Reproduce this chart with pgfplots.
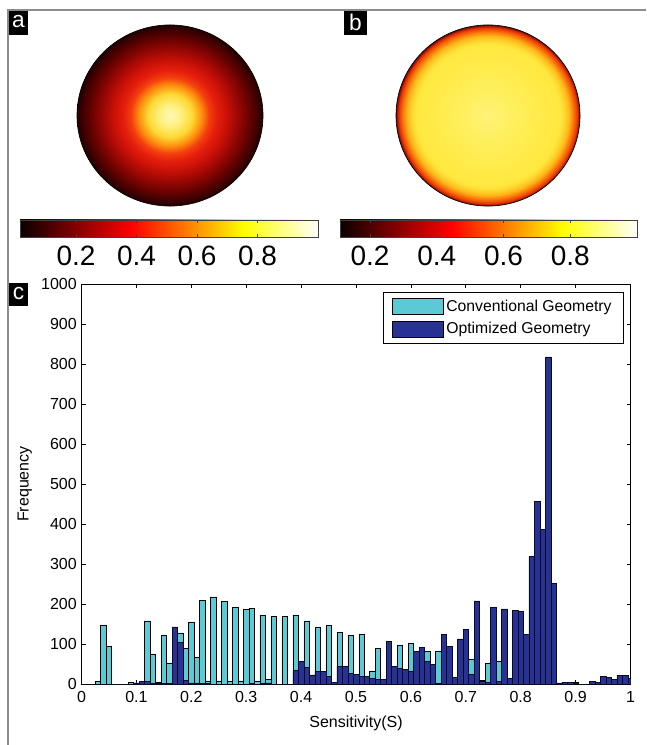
\documentclass[border=0pt]{standalone}
\usepackage{fontspec}
\setmainfont{Liberation Sans}
\usepackage{pgfplots}
\usepackage{pgfplotstable}
\pgfplotsset{compat=1.18}

\definecolor{convc}{RGB}{92,202,212}
\definecolor{optc}{RGB}{40,50,148}
\definecolor{framegray}{RGB}{140,140,140}

\pgfdeclarehorizontalshading{hotbar}{100bp}{rgb(0bp)=(0.04,0,0); rgb(25bp)=(0.04,0,0); rgb(43.75bp)=(1,0,0); rgb(62.5bp)=(1,1,0); rgb(75bp)=(1,1,1); rgb(100bp)=(1,1,1)}

\pgfdeclareradialshading{diskA}{\pgfpointorigin}{%
rgb(0bp)=(1,0.97,0.72);
rgb(3bp)=(1,0.94,0.5);
rgb(6bp)=(1,0.85,0.2);
rgb(8.5bp)=(1,0.55,0.05);
rgb(10.5bp)=(0.95,0.25,0.05);
rgb(12.5bp)=(0.9,0.12,0.05);
rgb(15bp)=(0.8,0.07,0.03);
rgb(18bp)=(0.62,0.03,0.02);
rgb(21bp)=(0.42,0.01,0);
rgb(23.5bp)=(0.25,0,0);
rgb(25bp)=(0.13,0,0);
rgb(50bp)=(0.13,0,0)}

\pgfdeclareradialshading{diskB}{\pgfpointorigin}{%
rgb(0bp)=(1,0.95,0.48);
rgb(6bp)=(1,0.94,0.38);
rgb(15bp)=(1,0.92,0.28);
rgb(19.5bp)=(1,0.91,0.25);
rgb(20.5bp)=(1,0.86,0.2);
rgb(22bp)=(1,0.72,0.1);
rgb(23.2bp)=(0.98,0.46,0.04);
rgb(24.3bp)=(0.9,0.2,0.02);
rgb(25bp)=(0.45,0.03,0);
rgb(50bp)=(0.45,0.03,0)}

\pgfplotstableread{
x conv opt
0.00 0 0
0.01 0 0
0.02 0 0
0.03 7 0
0.04 148 0
0.05 95 0
0.06 0 0
0.07 0 0
0.08 0 0
0.09 5 0
0.10 3 3
0.11 3 7
0.12 158 6
0.13 75 2
0.14 5 2
0.15 123 2
0.16 53 2
0.17 0 143
0.18 128 105
0.19 89 10
0.20 155 3
0.21 66 3
0.22 210 2
0.23 8 2
0.24 218 0
0.25 8 0
0.26 207 0
0.27 8 0
0.28 192 0
0.29 8 0
0.30 187 0
0.31 190 2
0.32 6 0
0.33 171 2
0.34 12 3
0.35 169 0
0.36 0 0
0.37 170 0
0.38 0 0
0.39 172 34
0.40 5 57
0.41 158 41
0.42 5 23
0.43 141 32
0.44 5 31
0.45 146 20
0.46 5 4
0.47 129 44
0.48 5 44
0.49 122 27
0.50 5 24
0.51 125 20
0.52 5 19
0.53 33 15
0.54 90 12
0.55 0 12
0.56 5 106
0.57 5 45
0.58 96 40
0.59 5 37
0.60 102 32
0.61 5 81
0.62 5 92
0.63 82 57
0.64 5 50
0.65 81 2
0.66 5 125
0.67 5 95
0.68 5 16
0.69 5 113
0.70 5 137
0.71 61 25
0.72 5 208
0.73 10 6
0.74 52 5
0.75 5 192
0.76 57 6
0.77 5 188
0.78 5 14
0.79 0 185
0.80 0 181
0.81 0 125
0.82 0 319
0.83 0 457
0.84 0 386
0.85 0 818
0.86 0 252
0.87 2 3
0.88 5 4
0.89 0 5
0.90 5 2
0.91 0 0
0.92 0 0
0.93 0 6
0.94 0 5
0.95 0 19
0.96 0 17
0.97 0 11
0.98 0 21
0.99 0 22
1.00 0 14
}\histdata

\begin{document}
\begin{tikzpicture}
\begin{scope}[x=0.75pt,y=-0.75pt]
  \useasboundingbox (0,0) rectangle (646,745);
  \coordinate (cSW) at (81.5,684);
  \coordinate (aSW) at (20,237);
  \coordinate (bSW) at (340,237);
  % frame
  \draw[framegray, line width=1.5pt] (8,745) -- (8,10) -- (646,10);
  % disks
  \shade[shading=diskA] (170,115.5) ellipse [x radius=69.75pt, y radius=67.9pt];
  \draw[black, line width=0.5pt] (170,115.5) ellipse [x radius=69.75pt, y radius=67.9pt];
  \shade[shading=diskB] (488,115.5) ellipse [x radius=69pt, y radius=67.9pt];
  \draw[black, line width=0.5pt] (488,115.5) ellipse [x radius=69pt, y radius=67.9pt];
  % colorbars
  \shade[shading=hotbar] (20,220) rectangle (318,237);
  \shade[shading=hotbar] (340,220) rectangle (637,237);
  % panel labels
  \fill[black] (9,11) rectangle (28,35);
  \node[white, font=\fontsize{17}{19}\selectfont, inner sep=0pt] at (18.5,22) {a};
  \fill[black] (344,11) rectangle (367,35);
  \node[white, font=\fontsize{17}{19}\selectfont, inner sep=0pt] at (355.5,22) {b};
  \fill[black] (9,283) rectangle (28,306);
  \node[white, font=\fontsize{17}{19}\selectfont, inner sep=0pt] at (18.5,294) {c};
\end{scope}

% colorbar a axis
\begin{axis}[at={(aSW)}, anchor=south west, scale only axis,
  width=223.5pt, height=12.75pt,
  xmin=0.015, xmax=1, ymin=0, ymax=1,
  ytick=\empty, xtick={0.2,0.4,0.6,0.8}, xticklabels={0.2,0.4,0.6,0.8},
  tick align=inside, major tick length=2.5pt,
  axis line style={line width=0.4pt, draw=black!75},
  tick style={black!75, line width=0.4pt},
  xticklabel style={font=\fontsize{21}{24}\selectfont, yshift=-3.5pt}]
\end{axis}
% colorbar b axis
\begin{axis}[at={(bSW)}, anchor=south west, scale only axis,
  width=222.75pt, height=12.75pt,
  xmin=0.11, xmax=1, ymin=0, ymax=1,
  ytick=\empty, xtick={0.2,0.4,0.6,0.8}, xticklabels={0.2,0.4,0.6,0.8},
  tick align=inside, major tick length=2.5pt,
  axis line style={line width=0.4pt, draw=black!75},
  tick style={black!75, line width=0.4pt},
  xticklabel style={font=\fontsize{21}{24}\selectfont, yshift=-3.5pt}]
\end{axis}

% histogram
\begin{axis}[at={(cSW)}, anchor=south west, scale only axis,
  width=411.75pt, height=300pt,
  xmin=0, xmax=1, ymin=0, ymax=1000,
  xtick={0,0.1,0.2,0.3,0.4,0.5,0.6,0.7,0.8,0.9,1},
  xticklabels={0,0.1,0.2,0.3,0.4,0.5,0.6,0.7,0.8,0.9,1},
  ytick={0,100,200,300,400,500,600,700,800,900,1000},
  yticklabels={0,100,200,300,400,500,600,700,800,900,1000},
  tick align=inside, major tick length=3pt,
  tick style={black, line width=0.5pt},
  axis line style={line width=0.6pt},
  ticklabel style={font=\fontsize{12}{14}\selectfont},
  xticklabel style={yshift=-2pt},
  label style={font=\fontsize{12}{14}\selectfont},
  xlabel style={yshift=-3pt},
  xlabel={Sensitivity(S)}, ylabel={Frequency},
  legend cell align=left,
  legend style={at={(axis description cs:0.988,0.98)}, anchor=north east,
    draw=black, line width=0.5pt, fill=white,
    font=\fontsize{11.8}{14}\selectfont, row sep=3pt,
    inner xsep=7pt, inner ysep=3.5pt},
]
\addplot[ybar, bar width=0.01, bar shift=0pt, fill=convc, draw=black, line width=0.35pt,
  legend image code/.code={\draw[fill=convc, draw=black, line width=0.5pt] (0pt,-6pt) rectangle (38pt,6pt);}]
  table[x=x, y=conv] {\histdata};
\addlegendentry{Conventional Geometry}
\addplot[ybar, bar width=0.01, bar shift=0pt, fill=optc, draw=black!80!optc, line width=0.35pt,
  legend image code/.code={\draw[fill=optc, draw=black, line width=0.5pt] (0pt,-6pt) rectangle (38pt,6pt);}]
  table[x=x, y=opt] {\histdata};
\addlegendentry{Optimized Geometry}
\end{axis}
\end{tikzpicture}
\end{document}
